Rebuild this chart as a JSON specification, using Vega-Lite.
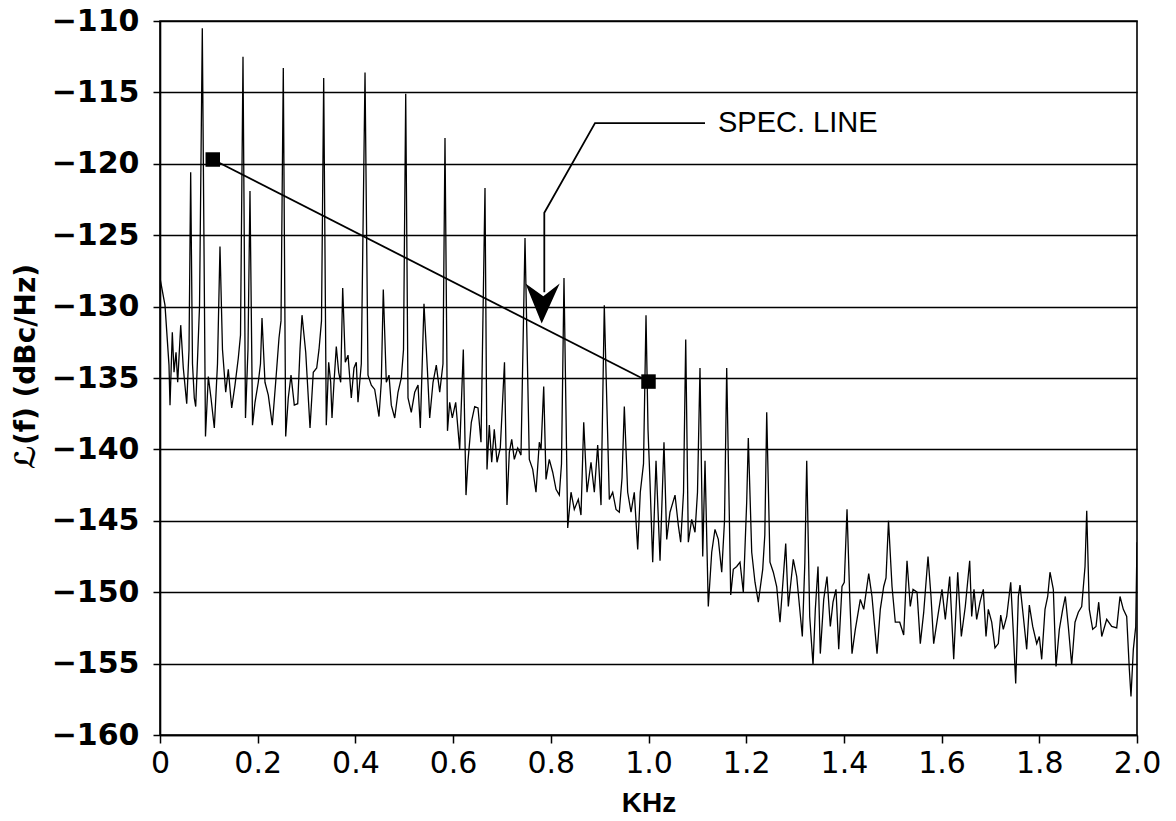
{
  "$schema": "https://vega.github.io/schema/vega-lite/v6.json",
  "autosize": {"type": "none"},
  "padding": {"left": 160, "top": 21, "right": 39, "bottom": 86},
  "width": 977,
  "height": 714,
  "background": "white",
  "config": {
    "view": {"stroke": "black", "strokeWidth": 1.6},
    "axis": {"domainColor": "black", "tickColor": "black", "labelColor": "black", "titleColor": "black", "domainWidth": 1.6, "tickWidth": 1.5}
  },
  "datasets": {
    "spectrum": [
      {"f": 0, "L": -128.0}, {"f": 0.0102, "L": -129.9}, {"f": 0.0184, "L": -134.1}, {"f": 0.0205, "L": -136.9}, {"f": 0.0252, "L": -131.8}, {"f": 0.0287, "L": -134.6}, {"f": 0.0328, "L": -133.2}, {"f": 0.0362, "L": -135.3}, {"f": 0.0424, "L": -131.3}, {"f": 0.0477, "L": -134.3}, {"f": 0.0547, "L": -136.8}, {"f": 0.0594, "L": -133.0}, {"f": 0.0628, "L": -120.6}, {"f": 0.0665, "L": -134.0}, {"f": 0.0702, "L": -136.4}, {"f": 0.0731, "L": -137.0}, {"f": 0.0809, "L": -130.0}, {"f": 0.0866, "L": -110.5}, {"f": 0.0931, "L": -139.1}, {"f": 0.0989, "L": -134.9}, {"f": 0.1044, "L": -136.4}, {"f": 0.1112, "L": -138.5}, {"f": 0.1177, "L": -134.0}, {"f": 0.1228, "L": -125.8}, {"f": 0.1279, "L": -133.0}, {"f": 0.1345, "L": -136.0}, {"f": 0.1398, "L": -134.4}, {"f": 0.1468, "L": -137.1}, {"f": 0.1535, "L": -135.5}, {"f": 0.1603, "L": -133.6}, {"f": 0.1648, "L": -132.0}, {"f": 0.1699, "L": -112.5}, {"f": 0.175, "L": -137.8}, {"f": 0.1801, "L": -133.0}, {"f": 0.1842, "L": -121.9}, {"f": 0.1894, "L": -138.3}, {"f": 0.1945, "L": -136.7}, {"f": 0.2012, "L": -135.3}, {"f": 0.2057, "L": -134.0}, {"f": 0.2088, "L": -130.8}, {"f": 0.2149, "L": -135.3}, {"f": 0.2217, "L": -136.2}, {"f": 0.2299, "L": -138.3}, {"f": 0.2368, "L": -135.3}, {"f": 0.2436, "L": -132.2}, {"f": 0.2477, "L": -131.0}, {"f": 0.2524, "L": -113.3}, {"f": 0.2573, "L": -139.1}, {"f": 0.2626, "L": -136.4}, {"f": 0.2682, "L": -134.8}, {"f": 0.2749, "L": -136.9}, {"f": 0.2819, "L": -136.8}, {"f": 0.2866, "L": -133.0}, {"f": 0.2907, "L": -130.6}, {"f": 0.2983, "L": -133.2}, {"f": 0.3071, "L": -138.5}, {"f": 0.3138, "L": -134.6}, {"f": 0.3208, "L": -134.3}, {"f": 0.3255, "L": -133.0}, {"f": 0.3306, "L": -131.0}, {"f": 0.3351, "L": -114.0},
      {"f": 0.3404, "L": -138.3}, {"f": 0.3453, "L": -133.9}, {"f": 0.3494, "L": -135.3}, {"f": 0.3521, "L": -137.8}, {"f": 0.3562, "L": -135.3}, {"f": 0.3609, "L": -132.8}, {"f": 0.3658, "L": -134.6}, {"f": 0.3699, "L": -135.3}, {"f": 0.374, "L": -128.7}, {"f": 0.3793, "L": -133.9}, {"f": 0.3849, "L": -133.4}, {"f": 0.3916, "L": -136.4}, {"f": 0.3971, "L": -134.3}, {"f": 0.4018, "L": -133.9}, {"f": 0.4053, "L": -136.7}, {"f": 0.4121, "L": -134.0}, {"f": 0.4197, "L": -113.6}, {"f": 0.4258, "L": -134.8}, {"f": 0.4326, "L": -135.5}, {"f": 0.4395, "L": -135.8}, {"f": 0.4483, "L": -137.7}, {"f": 0.453, "L": -135.3}, {"f": 0.4571, "L": -128.8}, {"f": 0.4633, "L": -135.3}, {"f": 0.4688, "L": -134.8}, {"f": 0.4735, "L": -136.9}, {"f": 0.4805, "L": -137.8}, {"f": 0.4872, "L": -136.0}, {"f": 0.494, "L": -135.0}, {"f": 0.4985, "L": -133.0}, {"f": 0.503, "L": -115.1}, {"f": 0.5077, "L": -136.4}, {"f": 0.5144, "L": -137.4}, {"f": 0.5214, "L": -136.0}, {"f": 0.5282, "L": -135.5}, {"f": 0.5329, "L": -138.5}, {"f": 0.5404, "L": -129.8}, {"f": 0.5472, "L": -134.3}, {"f": 0.5521, "L": -137.8}, {"f": 0.5589, "L": -135.3}, {"f": 0.5656, "L": -134.1}, {"f": 0.5726, "L": -136.0}, {"f": 0.5793, "L": -134.0}, {"f": 0.5834, "L": -118.2}, {"f": 0.5885, "L": -138.7}, {"f": 0.593, "L": -136.7}, {"f": 0.5984, "L": -137.8}, {"f": 0.6053, "L": -136.7}, {"f": 0.6135, "L": -140.0}, {"f": 0.6209, "L": -133.0}, {"f": 0.6264, "L": -143.2}, {"f": 0.6305, "L": -140.8}, {"f": 0.6373, "L": -138.1}, {"f": 0.6442, "L": -137.0}, {"f": 0.651, "L": -137.1}, {"f": 0.6571, "L": -139.5}, {"f": 0.6653, "L": -121.7},
      {"f": 0.6694, "L": -141.4}, {"f": 0.6741, "L": -138.3}, {"f": 0.679, "L": -140.9}, {"f": 0.6843, "L": -138.6}, {"f": 0.6899, "L": -140.9}, {"f": 0.6966, "L": -139.9}, {"f": 0.7052, "L": -133.9}, {"f": 0.7103, "L": -143.9}, {"f": 0.7151, "L": -140.2}, {"f": 0.72, "L": -139.3}, {"f": 0.7253, "L": -140.7}, {"f": 0.7323, "L": -139.9}, {"f": 0.739, "L": -140.4}, {"f": 0.7472, "L": -125.2}, {"f": 0.756, "L": -140.7}, {"f": 0.763, "L": -141.4}, {"f": 0.7697, "L": -143.0}, {"f": 0.7765, "L": -139.5}, {"f": 0.78, "L": -140.0}, {"f": 0.7855, "L": -135.6}, {"f": 0.7902, "L": -142.1}, {"f": 0.7969, "L": -140.7}, {"f": 0.8039, "L": -141.6}, {"f": 0.8107, "L": -142.8}, {"f": 0.8174, "L": -143.2}, {"f": 0.8219, "L": -141.0}, {"f": 0.827, "L": -128.0}, {"f": 0.8346, "L": -145.5}, {"f": 0.8414, "L": -143.0}, {"f": 0.8481, "L": -144.2}, {"f": 0.8563, "L": -143.5}, {"f": 0.8618, "L": -144.6}, {"f": 0.8674, "L": -138.1}, {"f": 0.8741, "L": -143.0}, {"f": 0.8823, "L": -140.9}, {"f": 0.8891, "L": -143.0}, {"f": 0.896, "L": -139.7}, {"f": 0.9028, "L": -143.9}, {"f": 0.9095, "L": -129.9}, {"f": 0.9198, "L": -143.5}, {"f": 0.9267, "L": -143.0}, {"f": 0.9335, "L": -144.2}, {"f": 0.9402, "L": -144.4}, {"f": 0.9458, "L": -142.0}, {"f": 0.9505, "L": -137.0}, {"f": 0.9574, "L": -143.0}, {"f": 0.9642, "L": -144.4}, {"f": 0.9709, "L": -143.0}, {"f": 0.9779, "L": -147.0}, {"f": 0.9832, "L": -143.0}, {"f": 0.9898, "L": -141.0}, {"f": 0.9949, "L": -130.6},
      {"f": 0.999, "L": -138.6}, {"f": 1.0031, "L": -142.3}, {"f": 1.0086, "L": -147.9}, {"f": 1.0154, "L": -140.8}, {"f": 1.0236, "L": -147.8}, {"f": 1.0317, "L": -139.5}, {"f": 1.0373, "L": -146.3}, {"f": 1.044, "L": -144.4}, {"f": 1.0543, "L": -143.2}, {"f": 1.061, "L": -145.3}, {"f": 1.0659, "L": -146.5}, {"f": 1.0717, "L": -143.0}, {"f": 1.0762, "L": -132.3}, {"f": 1.0815, "L": -146.5}, {"f": 1.0884, "L": -144.9}, {"f": 1.0952, "L": -145.8}, {"f": 1.1003, "L": -143.0}, {"f": 1.1054, "L": -134.3}, {"f": 1.111, "L": -147.5}, {"f": 1.1157, "L": -140.8}, {"f": 1.1224, "L": -151.0}, {"f": 1.1294, "L": -147.2}, {"f": 1.1361, "L": -145.6}, {"f": 1.1429, "L": -146.3}, {"f": 1.1499, "L": -148.6}, {"f": 1.1556, "L": -145.0}, {"f": 1.1601, "L": -134.3}, {"f": 1.1683, "L": -150.2}, {"f": 1.1736, "L": -148.4}, {"f": 1.1806, "L": -148.2}, {"f": 1.1873, "L": -147.9}, {"f": 1.1941, "L": -150.0}, {"f": 1.201, "L": -143.7}, {"f": 1.2043, "L": -139.2}, {"f": 1.2113, "L": -147.2}, {"f": 1.218, "L": -149.3}, {"f": 1.2248, "L": -150.7}, {"f": 1.2338, "L": -148.4}, {"f": 1.2381, "L": -146.0}, {"f": 1.242, "L": -137.4}, {"f": 1.2487, "L": -147.9}, {"f": 1.2555, "L": -148.6}, {"f": 1.2624, "L": -149.6}, {"f": 1.2692, "L": -152.1}, {"f": 1.2809, "L": -146.6}, {"f": 1.2862, "L": -151.0}, {"f": 1.2964, "L": -147.7}, {"f": 1.3034, "L": -148.9}, {"f": 1.3149, "L": -153.1}, {"f": 1.32, "L": -148.0}, {"f": 1.3239, "L": -140.8},
      {"f": 1.33, "L": -151.7}, {"f": 1.3368, "L": -155.1}, {"f": 1.3415, "L": -151.2}, {"f": 1.347, "L": -148.2}, {"f": 1.3517, "L": -154.3}, {"f": 1.3587, "L": -150.5}, {"f": 1.3654, "L": -148.9}, {"f": 1.3722, "L": -152.4}, {"f": 1.3777, "L": -150.7}, {"f": 1.3838, "L": -149.8}, {"f": 1.3894, "L": -154.0}, {"f": 1.3961, "L": -149.6}, {"f": 1.4008, "L": -149.3}, {"f": 1.4064, "L": -144.2}, {"f": 1.4119, "L": -150.3}, {"f": 1.4166, "L": -154.3}, {"f": 1.4234, "L": -152.6}, {"f": 1.4336, "L": -150.5}, {"f": 1.4406, "L": -151.2}, {"f": 1.4508, "L": -148.7}, {"f": 1.4575, "L": -150.3}, {"f": 1.4678, "L": -154.3}, {"f": 1.4745, "L": -151.2}, {"f": 1.4815, "L": -149.6}, {"f": 1.4862, "L": -149.0}, {"f": 1.4913, "L": -145.0}, {"f": 1.4985, "L": -149.6}, {"f": 1.5052, "L": -152.1}, {"f": 1.5143, "L": -152.1}, {"f": 1.5224, "L": -153.0}, {"f": 1.5292, "L": -147.8}, {"f": 1.5359, "L": -151.0}, {"f": 1.5415, "L": -149.8}, {"f": 1.5497, "L": -150.0}, {"f": 1.5564, "L": -153.6}, {"f": 1.5634, "L": -151.4}, {"f": 1.5722, "L": -147.5}, {"f": 1.5783, "L": -150.3}, {"f": 1.5838, "L": -153.6}, {"f": 1.5926, "L": -151.6}, {"f": 1.6008, "L": -149.8}, {"f": 1.6076, "L": -151.9}, {"f": 1.6166, "L": -148.9}, {"f": 1.6248, "L": -154.7}, {"f": 1.633, "L": -148.6}, {"f": 1.6404, "L": -153.1}, {"f": 1.6485, "L": -151.0}, {"f": 1.6575, "L": -147.8},
      {"f": 1.6616, "L": -151.7}, {"f": 1.6663, "L": -149.8}, {"f": 1.6718, "L": -151.9}, {"f": 1.6786, "L": -150.7}, {"f": 1.6854, "L": -149.8}, {"f": 1.6909, "L": -153.1}, {"f": 1.6956, "L": -151.2}, {"f": 1.7026, "L": -152.1}, {"f": 1.7093, "L": -153.9}, {"f": 1.7161, "L": -153.6}, {"f": 1.721, "L": -151.6}, {"f": 1.7263, "L": -152.6}, {"f": 1.7333, "L": -151.7}, {"f": 1.7415, "L": -149.3}, {"f": 1.7468, "L": -152.8}, {"f": 1.7517, "L": -156.4}, {"f": 1.7571, "L": -150.3}, {"f": 1.7605, "L": -149.5}, {"f": 1.7673, "L": -151.7}, {"f": 1.7742, "L": -154.0}, {"f": 1.7796, "L": -150.9}, {"f": 1.7865, "L": -152.4}, {"f": 1.7947, "L": -153.6}, {"f": 1.8, "L": -153.1}, {"f": 1.8049, "L": -154.7}, {"f": 1.8117, "L": -151.2}, {"f": 1.8172, "L": -150.3}, {"f": 1.8219, "L": -148.6}, {"f": 1.8287, "L": -149.8}, {"f": 1.8342, "L": -155.2}, {"f": 1.841, "L": -152.6}, {"f": 1.8479, "L": -151.2}, {"f": 1.8533, "L": -150.3}, {"f": 1.8594, "L": -152.4}, {"f": 1.8663, "L": -155.1}, {"f": 1.8731, "L": -152.1}, {"f": 1.8799, "L": -151.4}, {"f": 1.8868, "L": -151.0}, {"f": 1.8936, "L": -148.2}, {"f": 1.8971, "L": -144.3}, {"f": 1.9024, "L": -151.2}, {"f": 1.9093, "L": -152.6}, {"f": 1.9161, "L": -152.4}, {"f": 1.9216, "L": -150.7}, {"f": 1.9278, "L": -153.1}, {"f": 1.938, "L": -151.9}, {"f": 1.9482, "L": -152.4}, {"f": 1.9585, "L": -152.5}, {"f": 1.9652, "L": -150.3}, {"f": 1.972, "L": -151.2}, {"f": 1.9789, "L": -151.7}, {"f": 1.9843, "L": -155.4}, {"f": 1.9877, "L": -157.3}, {"f": 1.9925, "L": -154.0}, {"f": 1.9974, "L": -152.4}, {"f": 2.0, "L": -146.5}
    ],
    "specline": [
      {"f": 0.108, "L": -119.7},
      {"f": 1.0, "L": -135.25}
    ],
    "leader": [
      {"o": 1, "f": 1.1157, "L": -117.15},
      {"o": 2, "f": 0.8905, "L": -117.15},
      {"o": 3, "f": 0.7867, "L": -123.43},
      {"o": 4, "f": 0.7867, "L": -129.0}
    ],
    "arrowhead": [
      {"f": 0.783, "L": -129.78}
    ],
    "label": [
      {"f": 1.1423, "L": -117.15, "text": "SPEC. LINE"}
    ]
  },
  "encoding": {
    "x": {
      "field": "f",
      "type": "quantitative",
      "scale": {"domain": [0, 2], "nice": false, "zero": false},
      "axis": {
        "title": "KHz",
        "values": [0, 0.2, 0.4, 0.6, 0.8, 1.0, 1.2, 1.4, 1.6, 1.8, 2.0],
        "labelExpr": "datum.value == 0 ? '0' : format(datum.value, '.1f')",
        "grid": false,
        "tickSize": 8,
        "labelPadding": 5,
        "labelFont": "DejaVu Sans",
        "labelFontSize": 30,
        "labelFlush": false,
        "labelOverlap": false,
        "labelBound": false,
        "titleFont": "Liberation Sans",
        "titleFontWeight": "bold",
        "titleFontSize": 28,
        "titlePadding": 11
      }
    },
    "y": {
      "field": "L",
      "type": "quantitative",
      "scale": {"domain": [-160, -110], "nice": false, "zero": false},
      "axis": {
        "title": "ℒ(f) (dBc/Hz)",
        "values": [-160, -155, -150, -145, -140, -135, -130, -125, -120, -115, -110],
        "grid": true,
        "gridColor": "black",
        "gridWidth": 1.6,
        "gridOpacity": 1,
        "tickSize": 7,
        "labelPadding": 14,
        "labelFont": "DejaVu Sans",
        "labelFontWeight": "bold",
        "labelFontSize": 30,
        "labelFlush": false,
        "labelOverlap": false,
        "labelBound": false,
        "titleFont": "DejaVu Sans",
        "titleFontWeight": "bold",
        "titleFontSize": 28,
        "titleX": -134,
        "titleY": 345,
        "titleAlign": "center",
        "titleBaseline": "middle"
      }
    }
  },
  "layer": [
    {
      "data": {"name": "spectrum"},
      "mark": {"type": "line", "stroke": "black", "strokeWidth": 1.3, "strokeJoin": "miter", "clip": true}
    },
    {
      "data": {"name": "specline"},
      "mark": {"type": "line", "stroke": "black", "strokeWidth": 1.8}
    },
    {
      "data": {"name": "specline"},
      "mark": {"type": "point", "shape": "square", "size": 210, "filled": true, "fill": "black", "opacity": 1}
    },
    {
      "data": {"name": "leader"},
      "mark": {"type": "line", "stroke": "black", "strokeWidth": 1.8},
      "encoding": {"order": {"field": "o", "type": "quantitative"}}
    },
    {
      "data": {"name": "arrowhead"},
      "mark": {"type": "point", "shape": "M-0.85,-1 L0.04,-0.36 L0.86,-1 L-0.04,1 Z", "size": 1600, "filled": true, "fill": "black", "strokeWidth": 0, "opacity": 1}
    },
    {
      "data": {"name": "label"},
      "mark": {"type": "text", "align": "left", "baseline": "middle", "font": "Liberation Sans", "fontSize": 29, "color": "black"},
      "encoding": {"text": {"field": "text"}}
    }
  ]
}
